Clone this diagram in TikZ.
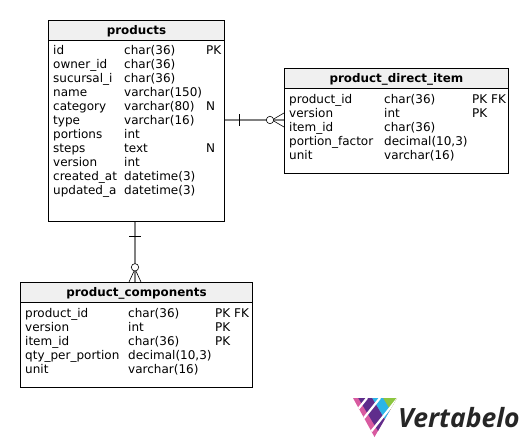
\documentclass[tikz,border=0pt]{standalone}
\usepackage{fontspec}
\setmainfont{DejaVu Sans}
\newfontfamily\logofont{Open Sans}
\usetikzlibrary{calc}

\definecolor{headfill}{HTML}{F0F0F0}
\definecolor{linkgray}{HTML}{808080}
\definecolor{logopink}{HTML}{D85AA0}
\definecolor{logopurple}{HTML}{5F2D8C}
\definecolor{logoblue}{HTML}{2BB5E8}
\definecolor{logogreen}{HTML}{8CC63F}

\tikzset{
    tablebox/.style={draw, line width=0.9pt, anchor=north west, inner sep=0pt},
    headbox/.style={draw, line width=0.9pt, fill=headfill, anchor=north west, inner sep=0pt, text height=9pt, text depth=0pt, font=\fontsize{11.9}{14}\selectfont\bfseries},
    colbox/.style={anchor=north west, inner sep=0pt, align=left, font=\fontsize{12}{14}\selectfont},
    linkline/.style={linkgray, line width=1.2pt},
    crowline/.style={black, line width=0.6pt},
    logocut/.style={white, line width=2.2pt}
}

\begin{document}
\begin{tikzpicture}[x=1pt, y=-1pt]

\useasboundingbox (0,0) rectangle (528,447);

% products
\node[tablebox, minimum width=176pt, minimum height=201pt] (products) at (48,20) {};
\node[headbox, minimum width=176pt, minimum height=20pt] (productshead) at (48,20) {products};
\node[colbox] (productsnames) at (53,45) {id\\owner\_id\\sucursal\_i\\name\\category\\type\\portions\\steps\\version\\created\_at\\updated\_a};
\node[colbox] (productstypes) at (124,45) {char(36)\\char(36)\\char(36)\\varchar(150)\\varchar(80)\\varchar(16)\\int\\text\\int\\datetime(3)\\datetime(3)};
\node[colbox] (productskeys) at (206,46) {PK\\ \\ \\ \\N\\ \\ \\N};

% product_direct_item
\node[tablebox, minimum width=224pt, minimum height=105pt] (direct) at (284,68) {};
\node[headbox, minimum width=224pt, minimum height=20pt] (directhead) at (284,68) {product\_direct\_item};
\node[colbox] (directnames) at (289,94) {product\_id\\version\\item\_id\\portion\_factor\\unit};
\node[colbox] (directtypes) at (384,94) {char(36)\\int\\char(36)\\decimal(10,3)\\varchar(16)};
\node[colbox] (directkeys) at (472,95) {PK FK\\PK};

% product_components
\node[tablebox, minimum width=232pt, minimum height=105pt] (components) at (20,282) {};
\node[headbox, minimum width=232pt, minimum height=20pt] (componentshead) at (20,282) {product\_components};
\node[colbox] (componentsnames) at (25,308) {product\_id\\version\\item\_id\\qty\_per\_portion\\unit};
\node[colbox] (componentstypes) at (128,308) {char(36)\\int\\char(36)\\decimal(10,3)\\varchar(16)};
\node[colbox] (componentskeys) at (215,309) {PK FK\\PK\\PK};

% Links
\coordinate (linkA) at (products.north east |- 0,120);
\coordinate (linkB) at (direct.north west |- 0,120);
\draw[linkline] (linkA) -- (linkB);
\coordinate (linkC) at (135,0 |- products.south);
\coordinate (linkD) at (135,0 |- components.north);
\draw[linkline] (linkC) -- (linkD);

% Crow feet
\draw[crowline] (239.3,114) -- (239.3,126);
\draw[crowline] (284,113) -- (272,120) -- (284,127);
\draw[crowline, fill=white] (270,120) circle (3.7pt);
\draw[crowline] (129,236) -- (141,236);
\draw[crowline] (129,282) -- (135,269) -- (141,282);
\draw[crowline, fill=white] (135,267.3) circle (3.7pt);

% Logo
\begin{scope}
\clip (353,398) -- (397,398) -- (374.5,437) -- cycle;
\fill[logopink] (350,396) rectangle (400,440);
\fill[logopurple] (357,396) -- (371,396) -- (398,441) -- (384,441) -- cycle;
\fill[logoblue] (371,396) -- (382,396) -- (409,441) -- (398,441) -- cycle;
\fill[logogreen] (382,396) -- (400,396) -- (420,441) -- (409,441) -- cycle;
\foreach \x in {367,380,398}
{
    \draw[logocut] (\x,398) -- (\x-40,448);
}
\end{scope}
\node[anchor=west, inner sep=0pt, text=black!85, font=\logofont\fontsize{26.5}{30}\selectfont\bfseries\itshape] (logotext) at (398,418) {Vertabelo};

\end{tikzpicture}
\end{document}
